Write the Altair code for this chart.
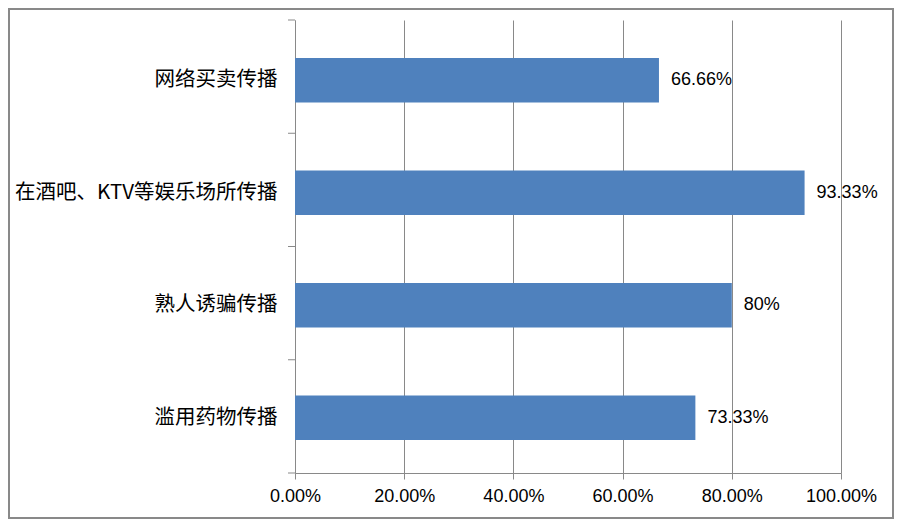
import altair as alt
import pandas as pd

categories = ["网络买卖传播", "在酒吧、KTV等娱乐场所传播", "熟人诱骗传播", "滥用药物传播"]
values = [0.6666, 0.9333, 0.80, 0.7333]
value_labels = ["66.66%", "93.33%", "80%", "73.33%"]
boundaries = [0, 1, 2, 3, 4]

df = pd.DataFrame({"cat": categories, "val": values, "lab": value_labels})
bdf = pd.DataFrame({"b": boundaries})

W, H = 546, 453
PL, PT, PR, PB = 287, 12, 53, 46
GRAY = "#898989"

y_enc = alt.Y(
    "cat:N",
    sort=categories,
    scale=alt.Scale(paddingInner=0.604, paddingOuter=0.316, align=0.535),
    axis=alt.Axis(
        title=None, ticks=False, tickSize=0, labelPadding=18, domainColor=GRAY,
        domainWidth=1, labelFont="Noto Sans CJK SC", labelFontSize=20.5,
        labelColor="#000000", labelLimit=400, grid=False,
    ),
)

bars = alt.Chart(df).mark_bar(color="#4F81BD").encode(
    x=alt.X(
        "val:Q",
        scale=alt.Scale(domain=[0, 1], nice=False),
        axis=alt.Axis(
            title=None, format=".2%", values=[0, 0.2, 0.4, 0.6, 0.8, 1.0],
            grid=True, gridColor=GRAY, gridWidth=1, domainColor=GRAY,
            tickColor=GRAY, tickSize=6, labelPadding=8, labelFlush=False,
            labelFont="Liberation Sans", labelFontSize=18, labelColor="#000000",
        ),
    ),
    y=y_enc,
)

texts = alt.Chart(df).mark_text(
    align="left", baseline="middle", dx=12, font="Liberation Sans",
    fontSize=18, color="#000000",
).encode(x="val:Q", y=alt.Y("cat:N", sort=categories), text="lab:N")

main = alt.layer(bars, texts)

yticks = alt.Chart(bdf).mark_rule(color=GRAY, strokeWidth=1).encode(
    x=alt.value(-7), x2=alt.value(0),
    y=alt.Y("b:Q", scale=alt.Scale(domain=[0, 4], nice=False, reverse=True), axis=None),
)

border = alt.Chart(pd.DataFrame({"a": [0]})).mark_rect(
    fill=None, stroke=GRAY, strokeWidth=2,
).encode(
    x=alt.value(-PL + 1), x2=alt.value(W + PR - 1),
    y=alt.value(-PT + 1), y2=alt.value(H + PB - 1),
)

chart = (
    alt.layer(main, yticks, border)
    .resolve_scale(y="independent")
    .properties(
        width=W, height=H,
        autosize=alt.AutoSizeParams(type="none"),
        padding={"left": PL, "top": PT, "right": PR, "bottom": PB},
        background="#ffffff",
    )
    .configure_view(stroke=None)
)

chart.save("out.html", embed_options={"renderer": "svg", "actions": False})
